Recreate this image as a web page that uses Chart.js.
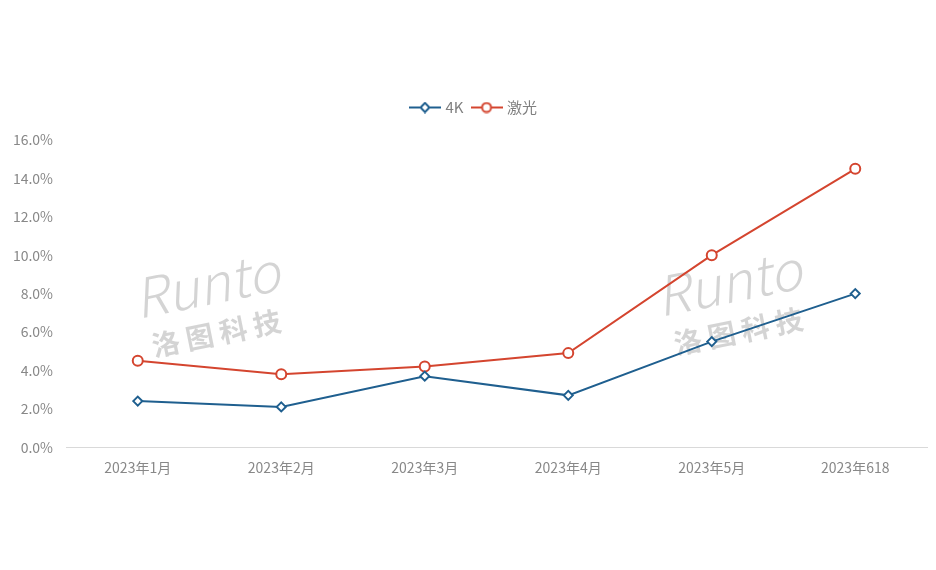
<!DOCTYPE html>
<html>
<head>
<meta charset="utf-8">
<script src="https://cdn.jsdelivr.net/npm/chart.js@4"></script>
<style>
  html, body { margin: 0; padding: 0; background: #fff; }
  #wrap { width: 936px; height: 570px; }
</style>
</head>
<body>
<div id="wrap"><canvas id="lineChart"></canvas></div>
<script>
// data
const months = ['2023年1月', '2023年2月', '2023年3月', '2023年4月', '2023年5月', '2023年618'];
const share4k = [2.4, 2.1, 3.7, 2.7, 5.5, 8.0];
const shareLaser = [4.5, 3.8, 4.2, 4.9, 10.0, 14.5];
const yTicks = [0, 2, 4, 6, 8, 10, 12, 14, 16];

const blue = '#1f5f8f';
const red = '#d4452f';
const grey = '#888';
const font = '"Noto Sans CJK SC", "Noto Sans", sans-serif';

// little line + marker image for the legend
function legendIcon(color, shape) {
  const c = document.createElement('canvas');
  c.width = 32; c.height = 12;
  const g = c.getContext('2d');
  g.strokeStyle = color; g.lineWidth = 2;
  g.beginPath(); g.moveTo(0, 6); g.lineTo(32, 6); g.stroke();
  g.fillStyle = '#fff';
  g.beginPath();
  if (shape === 'circle') {
    g.arc(16, 6, 4.5, 0, Math.PI * 2);
  } else {
    g.moveTo(16, 1.5); g.lineTo(20.5, 6); g.lineTo(16, 10.5); g.lineTo(11.5, 6); g.closePath();
  }
  g.fill(); g.stroke();
  return c;
}

// faint company watermark behind the lines
const watermark = {
  id: 'watermark',
  beforeDatasetsDraw(chart) {
    const ctx = chart.ctx;
    const spots = [[210, 302], [732, 300]];
    ctx.save();
    ctx.fillStyle = 'rgba(170,170,170,0.5)';
    spots.forEach(([x, y]) => {
      ctx.save();
      ctx.translate(x, y);
      ctx.rotate(-0.2);
      ctx.font = 'italic 300 54px ' + font;
      ctx.textAlign = 'center';
      ctx.textBaseline = 'middle';
      ctx.fillText('Runto', 0, -18);
      ctx.font = 'bold 28px ' + font;
      ctx.fillText('洛 图 科 技', 0, 32);
      ctx.restore();
    });
    ctx.restore();
  }
};

// extra room under the legend, and nudge it a bit to the right
const legendTweak = {
  id: 'legendTweak',
  beforeInit(chart) {
    const fit = chart.legend.fit;
    chart.legend.fit = function () {
      fit.bind(this)();
      this.height += 15;
    };
  },
  afterLayout(chart) {
    chart.legend.left += 11;
    chart.legend.right += 11;
  }
};

new Chart(document.getElementById('lineChart'), {
  type: 'line',
  data: {
    labels: months,
    datasets: [
      {
        label: '4K',
        data: share4k,
        borderColor: blue,
        backgroundColor: '#fff',
        borderWidth: 2,
        pointStyle: 'rectRot',
        pointRadius: 4.5,
        pointBorderWidth: 2,
        pointBackgroundColor: '#fff',
        tension: 0
      },
      {
        label: '激光',
        data: shareLaser,
        borderColor: red,
        backgroundColor: '#fff',
        borderWidth: 2,
        pointStyle: 'circle',
        pointRadius: 5,
        pointBorderWidth: 2,
        pointBackgroundColor: '#fff',
        tension: 0
      }
    ]
  },
  options: {
    responsive: true,
    maintainAspectRatio: false,
    animation: false,
    layout: { padding: { top: 90, right: 9, bottom: 82, left: 0 } },
    plugins: {
      legend: {
        position: 'top',
        labels: {
          color: '#7f7f7f',
          font: { family: font, size: 15 },
          usePointStyle: true,
          pointStyleWidth: 26,
          padding: 10,
          generateLabels(chart) {
            return chart.data.datasets.map((ds, i) => ({
              text: ds.label,
              fontColor: '#7f7f7f',
              pointStyle: legendIcon(ds.borderColor, i === 0 ? 'diamond' : 'circle'),
              datasetIndex: i,
              hidden: false,
              lineWidth: 0
            }));
          }
        }
      },
      tooltip: { enabled: false }
    },
    scales: {
      x: {
        offset: true,
        grid: { display: false, drawTicks: false },
        border: { display: true, color: '#d9d9d9', width: 1 },
        ticks: { color: grey, font: { family: font, size: 14 }, padding: 12, maxRotation: 0 }
      },
      y: {
        min: 0,
        max: 16,
        afterBuildTicks(axis) { axis.ticks = yTicks.map(v => ({ value: v })); },
        afterFit(axis) { axis.width = 66; },
        grid: { display: false, drawTicks: false },
        border: { display: false },
        ticks: {
          color: grey,
          font: { family: font, size: 14 },
          padding: 13,
          callback: v => v.toFixed(1) + '%'
        }
      }
    }
  },
  plugins: [watermark, legendTweak]
});
</script>
</body>
</html>
